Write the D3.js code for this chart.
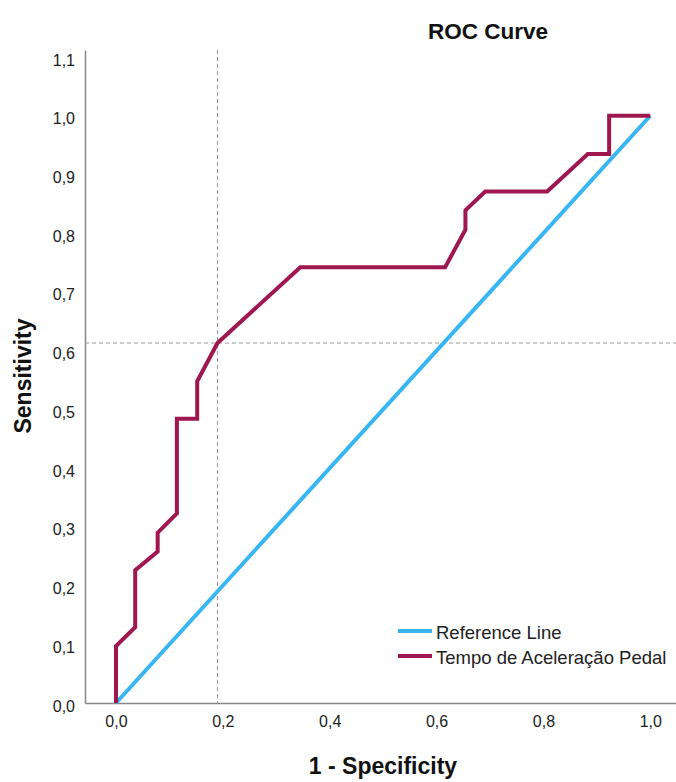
<!DOCTYPE html>
<html lang="en">
<head>
<meta charset="utf-8">
<title>ROC Curve</title>
<script src="https://d3js.org/d3.v7.min.js"></script>
<style>
body { margin: 0; background: #fff; }
svg text { font-family: "Liberation Sans", Arial, sans-serif; }
.tick text { font-size: 16px; fill: #222; }
.title, .axis-label { font-weight: bold; fill: #111; }
</style>
</head>
<body>
<svg width="676" height="782"></svg>
<script>
// data
var rocX = [0, 0, 0.036, 0.036, 0.078, 0.078, 0.114, 0.114, 0.152, 0.152, 0.190, 0.345, 0.616, 0.654, 0.654, 0.691, 0.807, 0.883, 0.923, 0.923, 1.0];
var rocY = [0, 0.097, 0.129, 0.226, 0.258, 0.290, 0.323, 0.484, 0.484, 0.548, 0.613, 0.742, 0.742, 0.806, 0.839, 0.871, 0.871, 0.935, 0.935, 1.0, 1.0];
var refX = [0, 1];
var refY = [0, 1];
var cutX = 0.19, cutY = 0.613;
var xTicks = [0, 0.2, 0.4, 0.6, 0.8, 1.0];
var yTicks = [0, 0.1, 0.2, 0.3, 0.4, 0.5, 0.6, 0.7, 0.8, 0.9, 1.0, 1.1];
var seriesNames = ["Reference Line", "Tempo de Aceleração Pedal"];
var seriesColors = ["#38b6f4", "#a0174f"];

var svg = d3.select("svg");

var x = d3.scaleLinear().domain([-0.058, 1.05]).range([85, 677]);
var y = d3.scaleLinear().domain([0, 1.112]).range([703, 50]);

var fmt = function(d) { return d3.format(".1f")(d).replace(".", ","); };

// axes, labels only
var gx = svg.append("g").attr("transform", "translate(0," + y(0) + ")")
    .call(d3.axisBottom(x).tickValues(xTicks).tickSize(0).tickPadding(13).tickFormat(fmt));
gx.select(".domain").attr("stroke", "#888").attr("stroke-width", 1.5);

var gy = svg.append("g").attr("transform", "translate(" + x(-0.058) + ",0)")
    .call(d3.axisLeft(y).tickValues(yTicks).tickSize(0).tickPadding(10).tickFormat(fmt));
gy.select(".domain").attr("stroke", "#888").attr("stroke-width", 1.5);
gy.selectAll(".tick text").attr("dy", "0.5em");

// reference dashed lines
svg.append("line")
    .attr("x1", x(cutX)).attr("x2", x(cutX))
    .attr("y1", y(1.112)).attr("y2", y(0))
    .attr("stroke", "#999").attr("stroke-dasharray", "4,3");
svg.append("line")
    .attr("x1", x(-0.058)).attr("x2", x(1.05))
    .attr("y1", y(cutY)).attr("y2", y(cutY))
    .attr("stroke", "#999").attr("stroke-dasharray", "4,3");

var line = d3.line().x(function(d) { return x(d[0]); }).y(function(d) { return y(d[1]); });

svg.append("path")
    .datum(d3.zip(refX, refY))
    .attr("d", line)
    .attr("fill", "none")
    .attr("stroke", seriesColors[0])
    .attr("stroke-width", 4);

svg.append("path")
    .datum(d3.zip(rocX, rocY))
    .attr("d", line)
    .attr("fill", "none")
    .attr("stroke", seriesColors[1])
    .attr("stroke-width", 4)
    .attr("stroke-linejoin", "miter");

// legend
var lg = svg.append("g").attr("transform", "translate(398,631)");
seriesNames.forEach(function(name, i) {
  lg.append("line")
      .attr("x1", 0).attr("x2", 34)
      .attr("y1", i * 25).attr("y2", i * 25)
      .attr("stroke", seriesColors[i]).attr("stroke-width", 4);
  lg.append("text")
      .attr("x", 38).attr("y", i * 25 + 8)
      .attr("font-size", 18.5)
      .attr("fill", "#222")
      .text(name);
});

// titles
svg.append("text").attr("class", "title")
    .attr("x", 488).attr("y", 39)
    .attr("text-anchor", "middle")
    .attr("font-size", 22.5)
    .text("ROC Curve");

svg.append("text").attr("class", "axis-label")
    .attr("transform", "translate(31,376) rotate(-90)")
    .attr("text-anchor", "middle")
    .attr("font-size", 23)
    .text("Sensitivity");

svg.append("text").attr("class", "axis-label")
    .attr("x", 383).attr("y", 774)
    .attr("text-anchor", "middle")
    .attr("font-size", 23)
    .text("1 - Specificity");
</script>
</body>
</html>
